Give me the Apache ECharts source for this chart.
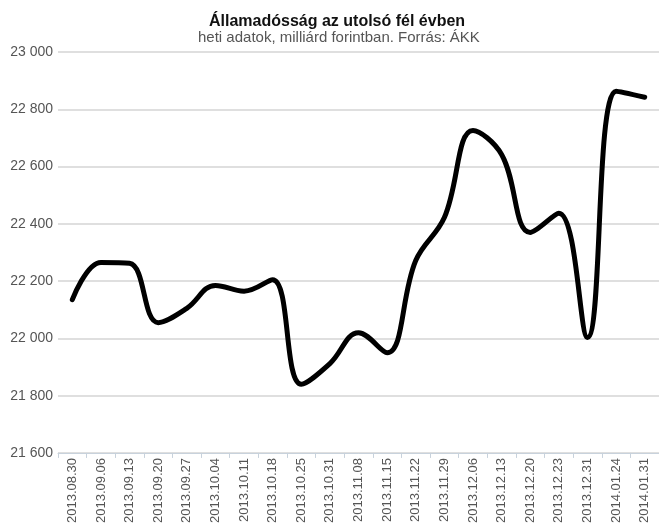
<!DOCTYPE html>
<html><head><meta charset="utf-8">
<script src="https://cdn.jsdelivr.net/npm/echarts@6/dist/echarts.min.js"></script>
<style>html,body{margin:0;padding:0;background:#fff}#c{width:659px;height:526px}</style>
</head><body><div id="c"></div>
<script>
const categories = ["2013.08.30","2013.09.06","2013.09.13","2013.09.20","2013.09.27","2013.10.04","2013.10.11","2013.10.18","2013.10.25","2013.10.31","2013.11.08","2013.11.15","2013.11.22","2013.11.29","2013.12.06","2013.12.13","2013.12.20","2013.12.23","2013.12.31","2014.01.24","2014.01.31"];
const debt = [22135,22265,22262,22055,22105,22185,22165,22205,21840,21912,22020,21950,22272,22422,22726,22642,22370,22437,22003,22863,22842];
const yTicks = {min:21600, max:23000, interval:200};
const titleText = "Államadósság az utolsó fél évben";
const subtitleText = "heti adatok, milliárd forintban. Forrás: ÁKK";

const chart = echarts.init(document.getElementById('c'), null, {renderer:'canvas'});
chart.setOption({
  animation:false,
  backgroundColor:'#fff',
  title:[
    {text:titleText, left:204, top:9, textStyle:{fontFamily:'Liberation Sans', fontSize:16, fontWeight:'bold', color:'#111'}},
    {text:subtitleText, left:193, top:25, textStyle:{fontFamily:'Liberation Sans', fontSize:15, fontWeight:'normal', color:'#555'}}
  ],
  grid:{left:58, top:52, width:603, height:401, containLabel:false},
  xAxis:{
    type:'category', data:categories, boundaryGap:true,
    axisLine:{lineStyle:{color:'#c8d2dc', width:1}},
    axisTick:{show:true, length:5, lineStyle:{color:'#c8d2dc'}},
    axisLabel:{rotate:90, interval:0, fontFamily:'Liberation Sans', fontSize:13, color:'#555', margin:5}
  },
  yAxis:{
    type:'value', min:yTicks.min, max:yTicks.max, interval:yTicks.interval,
    axisLine:{show:false}, axisTick:{show:false},
    splitLine:{lineStyle:{color:'#d4d4d4', width:1.5}},
    axisLabel:{fontFamily:'Liberation Sans', fontSize:14, color:'#555', margin:5,
      formatter:v=>{const s=String(v);return s.slice(0,s.length-3)+' '+s.slice(-3);}}
  },
  series:[{
    type:'line', data:debt, smooth:0.4, symbol:'none',
    lineStyle:{color:'#000', width:5, cap:'round', join:'round'}
  }]
});
</script></body></html>
